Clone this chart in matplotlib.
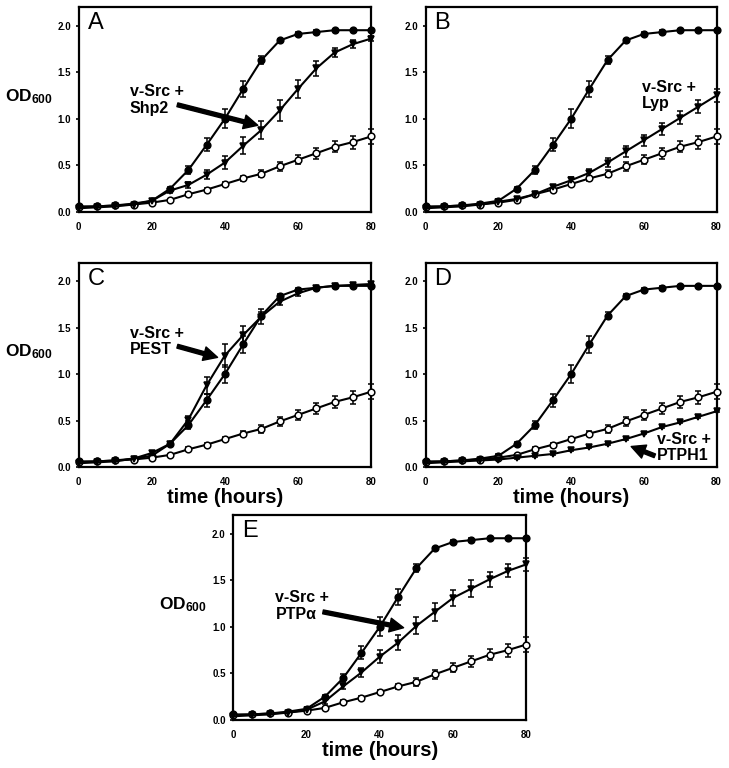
import matplotlib
matplotlib.use("Agg")
import matplotlib.pyplot as plt

# ---------------------------------------------------------------- data
time_h = [0, 5, 10, 15, 20, 25, 30, 35, 40, 45, 50, 55, 60, 65, 70, 75, 80]

# v-Src alone (filled circles), same trace in every panel
vsrc = [0.06, 0.06, 0.07, 0.09, 0.12, 0.25, 0.45, 0.72, 1.00, 1.32, 1.63, 1.84, 1.91, 1.93, 1.95, 1.95, 1.95]
vsrc_err = [0.01, 0.01, 0.01, 0.01, 0.02, 0.02, 0.04, 0.07, 0.10, 0.09, 0.04, 0.02, 0.02, 0.02, 0.01, 0.01, 0.01]

# vector control (open circles)
ctrl = [0.05, 0.06, 0.07, 0.08, 0.10, 0.13, 0.19, 0.24, 0.30, 0.36, 0.41, 0.49, 0.56, 0.63, 0.70, 0.75, 0.81]
ctrl_err = [0.01, 0.01, 0.01, 0.01, 0.01, 0.01, 0.02, 0.02, 0.02, 0.03, 0.04, 0.05, 0.05, 0.06, 0.06, 0.07, 0.08]

# v-Src + phosphatase (triangles), one per panel
shp2 = [0.04, 0.05, 0.06, 0.08, 0.12, 0.23, 0.29, 0.40, 0.53, 0.71, 0.88, 1.09, 1.32, 1.54, 1.71, 1.80, 1.86]
shp2_err = [0.01, 0.01, 0.01, 0.01, 0.02, 0.03, 0.03, 0.05, 0.07, 0.09, 0.10, 0.11, 0.10, 0.08, 0.05, 0.04, 0.03]
lyp = [0.04, 0.05, 0.06, 0.08, 0.11, 0.14, 0.19, 0.27, 0.34, 0.42, 0.53, 0.65, 0.77, 0.89, 1.01, 1.13, 1.25]
lyp_err = [0.01, 0.01, 0.01, 0.01, 0.01, 0.01, 0.02, 0.02, 0.03, 0.04, 0.05, 0.06, 0.06, 0.06, 0.07, 0.07, 0.07]
pest = [0.04, 0.05, 0.06, 0.09, 0.15, 0.25, 0.51, 0.88, 1.20, 1.42, 1.62, 1.78, 1.87, 1.93, 1.95, 1.96, 1.97]
pest_err = [0.01, 0.01, 0.01, 0.01, 0.02, 0.02, 0.04, 0.09, 0.12, 0.10, 0.08, 0.04, 0.03, 0.02, 0.02, 0.02, 0.02]
ptph1 = [0.04, 0.05, 0.06, 0.07, 0.08, 0.10, 0.12, 0.14, 0.18, 0.21, 0.25, 0.30, 0.36, 0.43, 0.48, 0.54, 0.60]
ptph1_err = [0.01] * 17
ptpa = [0.04, 0.05, 0.06, 0.08, 0.11, 0.20, 0.36, 0.51, 0.68, 0.83, 1.01, 1.16, 1.31, 1.41, 1.51, 1.60, 1.67]
ptpa_err = [0.01, 0.01, 0.01, 0.01, 0.01, 0.03, 0.03, 0.05, 0.07, 0.08, 0.09, 0.10, 0.09, 0.09, 0.08, 0.07, 0.07]

x_ticks = [0, 20, 40, 60, 80]
y_ticks = [0.0, 0.5, 1.0, 1.5, 2.0]

# ---------------------------------------------------------------- style
plt.rcParams.update({
    "font.family": ["Liberation Sans", "DejaVu Sans"],
    "mathtext.fontset": "custom",
    "mathtext.rm": "Liberation Sans",
    "mathtext.bf": "Liberation Sans:bold",
    "axes.linewidth": 1.6,
})

LW = 1.5
MS = 4.8


def series(ax, y, err, marker, face):
    ax.errorbar(time_h, y, yerr=err, color="black", lw=LW, marker=marker,
                ms=MS, mfc=face, mec="black", mew=1.1, capsize=2.2,
                elinewidth=1.1, capthick=1.1, clip_on=False, zorder=3)


def panel(rect, letter, tri, tri_err, ylabel=False, xlabel=False):
    ax = fig.add_axes(rect)
    series(ax, vsrc, vsrc_err, "o", "black")
    series(ax, ctrl, ctrl_err, "o", "white")
    series(ax, tri, tri_err, "v", "black")
    ax.set_xlim(0, 80)
    ax.set_ylim(0, 2.2)
    ax.set_xticks(x_ticks)
    ax.set_yticks(y_ticks)
    ax.set_yticklabels(["%.1f" % v for v in y_ticks])
    ax.tick_params(axis="both", direction="out", length=2.5, width=1.2,
                   labelsize=7, pad=3)
    ax.tick_params(axis="x", length=0, pad=7)
    for t in ax.get_xticklabels() + ax.get_yticklabels():
        t.set_fontweight("bold")
    ax.text(0.03, 0.975, letter, transform=ax.transAxes, ha="left", va="top",
            fontsize=17)
    if ylabel:
        # OD600 sits just above the 1.0 tick, left of the tick labels
        ax.text(-0.088, 1.24, r"$\mathbf{OD_{600}}$", transform=ax.get_yaxis_transform(),
                ha="right", va="center", fontsize=12.5)
    if xlabel:
        ax.set_xlabel("time (hours)", fontsize=14.5, fontweight="bold", labelpad=1)
    return ax


def label(ax, text, xy_text, xy_head=None, xy_tail=None):
    ax.text(xy_text[0], xy_text[1], text, ha="left", va="center",
            fontsize=11.5, fontweight="bold", linespacing=1.15)
    if xy_head is not None:
        ax.annotate("", xy=xy_head, xytext=xy_tail,
                    arrowprops=dict(facecolor="black", edgecolor="black",
                                    width=2.8, headwidth=10, headlength=10,
                                    shrink=0))


fig = plt.figure(figsize=(7.29, 7.68), dpi=100)

axA = panel([0.108, 0.724, 0.401, 0.267], "A", shp2, shp2_err, ylabel=True)
label(axA, "v-Src +\nShp2", (14, 1.20), (49, 0.93), (27, 1.15))

axB = panel([0.584, 0.724, 0.399, 0.267], "B", lyp, lyp_err)
label(axB, "v-Src +\nLyp", (59.5, 1.25))

axC = panel([0.108, 0.392, 0.401, 0.266], "C", pest, pest_err, ylabel=True, xlabel=True)
label(axC, "v-Src +\nPEST", (14, 1.35), (38, 1.18), (27, 1.30))

axD = panel([0.584, 0.392, 0.399, 0.266], "D", ptph1, ptph1_err, xlabel=True)
label(axD, "v-Src +\nPTPH1", (63.5, 0.21), (56.5, 0.22), (63, 0.12))

axE = panel([0.320, 0.0625, 0.402, 0.267], "E", ptpa, ptpa_err, ylabel=True, xlabel=True)
label(axE, "v-Src +\nPTP\u03b1", (11.5, 1.22), (46.5, 0.99), (24.5, 1.16))

fig.savefig("out.png", dpi=100, facecolor="white")
